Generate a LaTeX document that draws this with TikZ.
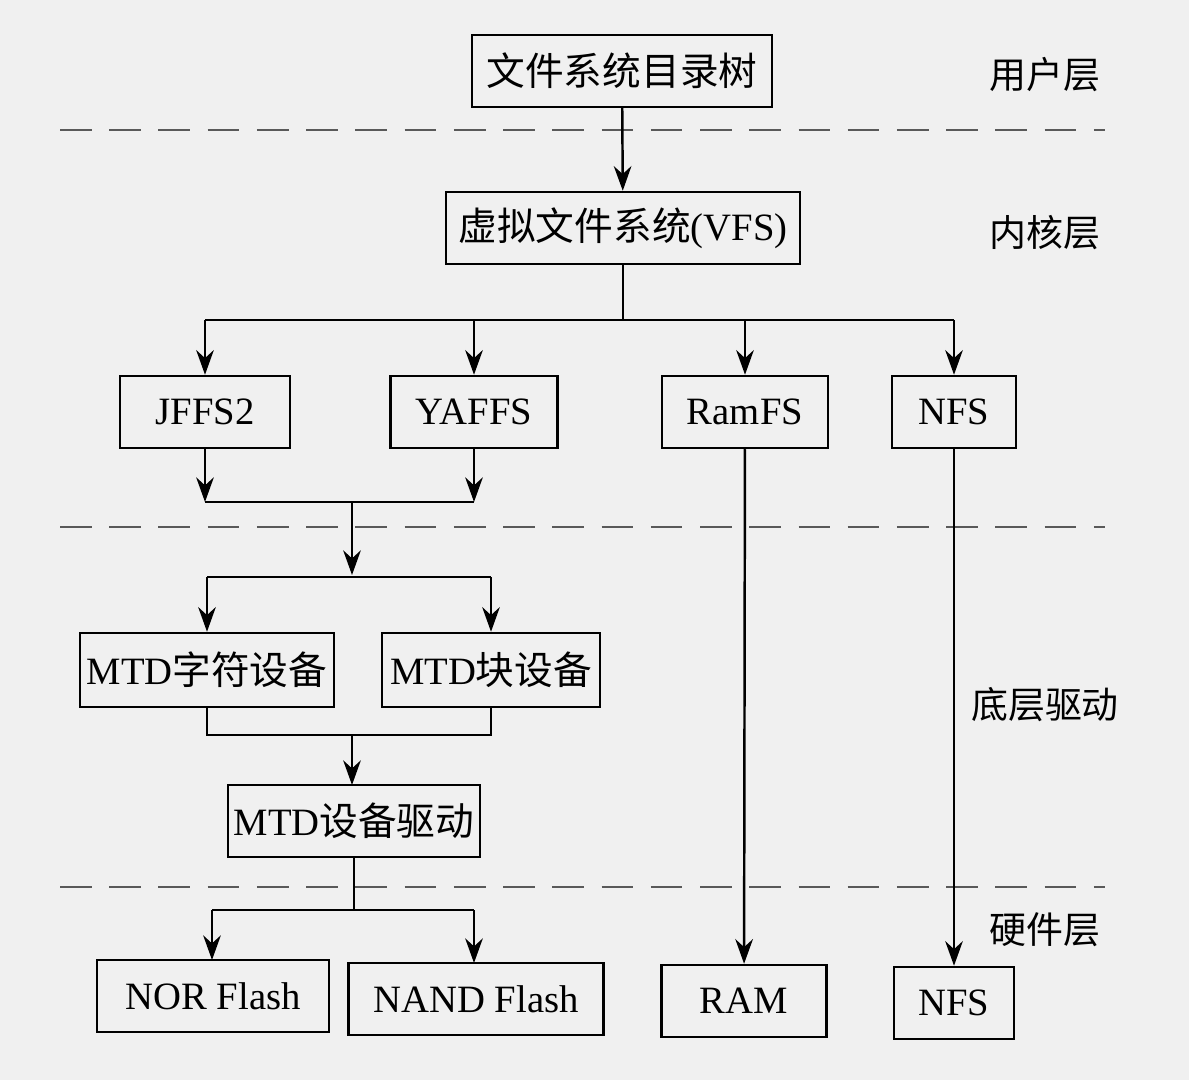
\documentclass[tikz,border=0pt]{standalone}
\usepackage{fontspec}
\setmainfont{Liberation Serif}
\newfontfamily\cjk{Noto Sans CJK SC}
\usetikzlibrary{arrows.meta}
\begin{document}
\begin{tikzpicture}[x=0.01cm,y=-0.01cm,
  bx/.style={draw,line width=0.7pt,minimum height=0.72cm,inner sep=0pt,font=\fontsize{11}{13}\selectfont},
  lab/.style={font=\cjk\fontsize{10.5}{12}\selectfont},
  ar/.style={-{Stealth[length=7pt,width=5pt]},line width=0.7pt},
  ln/.style={line width=0.7pt},
  dl/.style={dashed,dash pattern=on 9pt off 5pt,line width=0.7pt,gray!70!black}]
\fill[black!6] (0,0) rectangle (1189,1080);
\useasboundingbox (0,0) rectangle (1189,1080);
\node[bx,minimum width=3.0cm] (top) at (622,71) {\cjk 文件系统目录树};
\node[bx,minimum width=3.54cm] (vfs) at (623,228) {\cjk 虚拟文件系统\rmfamily(VFS)};
\node[bx,minimum width=1.7cm] (jffs) at (205,412) {JFFS2};
\node[bx,minimum width=1.67cm] (yaffs) at (474,412) {YAFFS};
\node[bx,minimum width=1.66cm] (ramfs) at (745,412) {RamFS};
\node[bx,minimum width=1.24cm] (nfs) at (954,412) {NFS};
\node[bx,minimum width=2.54cm,minimum height=0.74cm] (mtdc) at (207,670) {MTD{\cjk 字符设备}};
\node[bx,minimum width=2.18cm,minimum height=0.74cm] (mtdb) at (491,670) {MTD{\cjk 块设备}};
\node[bx,minimum width=2.52cm] (mtdd) at (354,821) {MTD{\cjk 设备驱动}};
\node[bx,minimum width=2.32cm] (nor) at (213,996) {NOR Flash};
\node[bx,minimum width=2.55cm] (nand) at (476,999) {NAND Flash};
\node[bx,minimum width=1.65cm] (ram) at (744,1001) {RAM};
\node[bx,minimum width=1.2cm] (nfs2) at (954,1003) {NFS};
\node[lab] (l1) at (1045,75) {用户层};
\node[lab] (l2) at (1045,233) {内核层};
\node[lab] (l3) at (1045,705) {底层驱动};
\node[lab] (l4) at (1045,930) {硬件层};
\draw[dl] (60,130) -- (1105,130);
\draw[dl] (60,527) -- (1105,527);
\draw[dl] (60,887) -- (1105,887);
\draw[ar] (top) -- (vfs);
\coordinate (v1) at (623,320);
\draw[ln] (vfs.south) -- (v1);
\draw[ln] (205,320) -- (954,320);
\draw[ar] (205,320) -- (jffs.north);
\draw[ar] (474,320) -- (yaffs.north);
\draw[ar] (745,320) -- (ramfs.north);
\draw[ar] (954,320) -- (nfs.north);
\draw[ar] (jffs.south) -- (205,502);
\draw[ar] (yaffs.south) -- (474,502);
\draw[ln] (205,502) -- (474,502);
\draw[ar] (352,502) -- (352,575);
\draw[ln] (207,577) -- (491,577);
\draw[ar] (207,577) -- (mtdc.north);
\draw[ar] (491,577) -- (mtdb.north);
\draw[ln] (mtdc.south) -- (207,735) -- (491,735) -- (mtdb.south);
\draw[ar] (352,735) -- (352,785);
\draw[ln] (mtdd.south) -- (354,910);
\draw[ln] (212,910) -- (474,910);
\draw[ar] (212,910) -- (212,960);
\draw[ar] (474,910) -- (474,963);
\draw[ar] (ramfs) -- (ram);
\draw[ar] (nfs) -- (nfs2);
\end{tikzpicture}
\end{document}
